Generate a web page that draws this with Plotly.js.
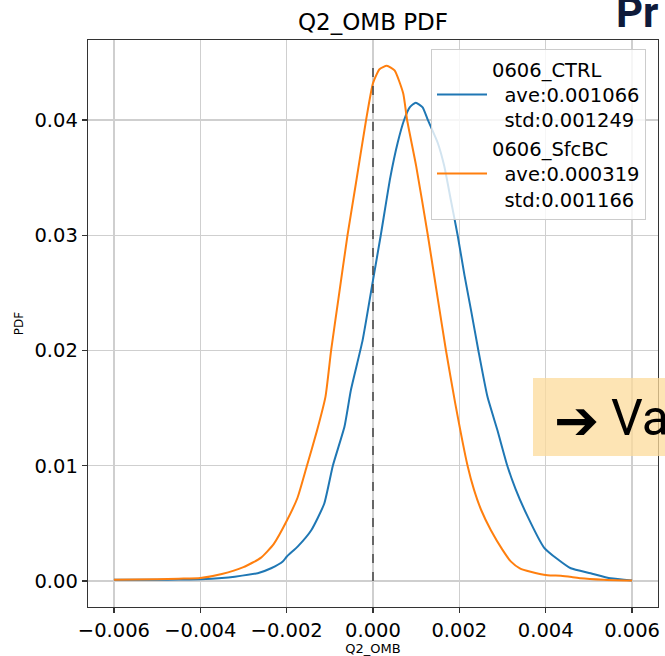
<!DOCTYPE html>
<html>
<head>
<meta charset="utf-8">
<script src="https://cdn.plot.ly/plotly-3.0.1.min.js"></script>
<style>html,body{margin:0;padding:0;background:#fff;}#chart{width:665px;height:656px;}</style>
</head>
<body>
<div id="chart"></div>
<script>
// ---- data ----
const xCtrl = [-0.006, -0.005, -0.0045, -0.004, -0.0035, -0.0032, -0.00267, -0.00236, -0.00209, -0.002, -0.00174, -0.00143, -0.00113, -0.00093, -0.00066, -0.00051, -0.00024, 0.0, 0.00018, 0.0004, 0.00057, 0.00072, 0.00085, 0.00099, 0.00115, 0.00127, 0.0015, 0.00165, 0.0018, 0.00196, 0.00212, 0.00227, 0.00244, 0.00265, 0.00288, 0.00311, 0.0033, 0.00358, 0.00396, 0.00427, 0.00458, 0.00504, 0.0055, 0.006];
const yCtrl = [0.0001, 0.0001, 0.00012, 0.00015, 0.00025, 0.00037, 0.00067, 0.0011, 0.00168, 0.0021, 0.003, 0.0044, 0.0067, 0.0100, 0.0134, 0.0166, 0.0209, 0.0261, 0.0300, 0.0350, 0.0380, 0.0400, 0.0411, 0.0415, 0.0411, 0.0400, 0.0380, 0.0360, 0.0331, 0.0300, 0.0265, 0.0235, 0.0200, 0.0160, 0.0131, 0.0100, 0.0080, 0.0056, 0.0029, 0.0019, 0.0011, 0.00067, 0.00023, 0.00005];

const xSfc = [-0.006, -0.005, -0.0045, -0.004, -0.0035, -0.003, -0.0026, -0.0023, -0.002, -0.00175, -0.00153, -0.0013, -0.0011, -0.00097, -0.0008, -0.00059, -0.0004, -0.00016, 0.0, 0.00015, 0.00032, 0.0005, 0.0007, 0.00079, 0.001, 0.00127, 0.0015, 0.00169, 0.0019, 0.00219, 0.00234, 0.0025, 0.00273, 0.003, 0.00319, 0.0034, 0.00365, 0.00404, 0.00435, 0.0046, 0.00481, 0.00534, 0.006];
const ySfc = [0.0001, 0.00015, 0.0002, 0.00025, 0.0006, 0.0012, 0.0020, 0.0032, 0.0052, 0.0072, 0.0100, 0.0130, 0.0160, 0.0200, 0.0245, 0.0300, 0.0344, 0.0400, 0.0432, 0.0444, 0.0447, 0.0443, 0.0423, 0.0400, 0.0360, 0.0300, 0.0245, 0.0200, 0.0155, 0.0100, 0.0079, 0.0062, 0.0044, 0.0027, 0.0017, 0.0011, 0.0008, 0.0005, 0.00046, 0.00035, 0.00023, 0.0001, 0.00003];

const nameCtrl = ["0606_CTRL", "ave:0.001066", "std:0.001249"];
const nameSfc = ["0606_SfcBC", "ave:0.000319", "std:0.001166"];

const xTickVals = [-0.006, -0.004, -0.002, 0.0, 0.002, 0.004, 0.006];
const xTickText = ["\u22120.006", "\u22120.004", "\u22120.002", "0.000", "0.002", "0.004", "0.006"];
const yTickVals = [0.00, 0.01, 0.02, 0.03, 0.04];
const yTickText = ["0.00", "0.01", "0.02", "0.03", "0.04"];

const titleText = "Q2_OMB PDF";
const xTitle = "Q2_OMB";
const yTitle = "PDF";

// ---- build ----
const NB = "\u00A0\u00A0";
function label(parts) { return parts[0] + "<br>" + NB + parts[1] + "<br>" + NB + parts[2]; }

const font = "DejaVu Sans, sans-serif";
const TF = 19.5;
const traces = [
  {x: xCtrl, y: yCtrl, type: "scatter", mode: "lines", name: label(nameCtrl),
   line: {color: "#1f77b4", width: 2, shape: "spline", smoothing: 0.5}},
  {x: xSfc, y: ySfc, type: "scatter", mode: "lines", name: label(nameSfc),
   line: {color: "#ff7f0e", width: 2, shape: "spline", smoothing: 0.5}}
];

const peak = Math.max(Math.max(...yCtrl), Math.max(...ySfc));

const L = 88, R = 658, T = 40, B = 607, W = 665, H = 656;
const px = v => (v - L) / (R - L);
const py = v => (B - v) / (B - T);

const layout = {
  width: W, height: H,
  margin: {l: L, r: W - R, t: T, b: H - B, pad: 0},
  paper_bgcolor: "#fff", plot_bgcolor: "#fff",
  font: {family: font, color: "#000", size: TF},
  title: {text: titleText, font: {family: font, size: 23, color: "#000"},
          x: 0.5, xref: "paper", y: 1 - 22 / H, yref: "container", yanchor: "middle"},
  showlegend: true,
  legend: {x: px(431), y: py(49), xanchor: "left", yanchor: "top",
           bgcolor: "rgba(255,255,255,0.8)", bordercolor: "#cccccc", borderwidth: 1,
           font: {family: font, size: TF, color: "#000"}, tracegroupgap: 0, valign: "middle",
           itemwidth: 50},
  xaxis: {range: [-0.0066, 0.0066], tickmode: "array", tickvals: xTickVals, ticktext: xTickText,
          showgrid: true, gridcolor: "#cfcfcf", gridwidth: 1.4, zeroline: false,
          showline: true, linecolor: "#333", linewidth: 1.3, mirror: true,
          ticks: "outside", ticklen: 5, tickcolor: "#333", tickwidth: 1.2,
          tickfont: {family: font, size: TF, color: "#000"},
          title: {text: xTitle, font: {family: font, size: 13, color: "#000"}, standoff: 4}},
  yaxis: {range: [-0.00226, 0.04694], tickmode: "array", tickvals: yTickVals, ticktext: yTickText,
          showgrid: true, gridcolor: "#cfcfcf", gridwidth: 1.4, zeroline: false,
          showline: true, linecolor: "#333", linewidth: 1.3, mirror: true,
          ticks: "outside", ticklen: 5, tickcolor: "#333", tickwidth: 1.2,
          tickfont: {family: font, size: TF, color: "#000"},
          title: {text: yTitle, font: {family: font, size: 12, color: "#000"}, standoff: 8}},
  shapes: [
    {type: "line", xref: "x", yref: "y", x0: 0, x1: 0, y0: 0, y1: peak,
     line: {color: "#444", width: 1.5, dash: "dash"}, layer: "above"},
    {type: "rect", xref: "paper", yref: "paper", x0: px(533), x1: px(700), y0: py(456), y1: py(378),
     fillcolor: "rgba(252,219,155,0.75)", line: {width: 0}, layer: "above"}
  ],
  annotations: [
    {xref: "paper", yref: "paper", x: px(552), y: py(420), xanchor: "left", yanchor: "middle",
     text: "<b>\u2794</b>", showarrow: false, font: {family: "DejaVu Sans, sans-serif", size: 54, color: "#000"}},
    {xref: "paper", yref: "paper", x: px(609), y: py(418), xanchor: "left", yanchor: "middle",
     text: "Va", showarrow: false, font: {family: "Roboto, sans-serif", size: 50, color: "#000"}},
    {xref: "paper", yref: "paper", x: px(614), y: py(13), xanchor: "left", yanchor: "middle",
     text: "<b>Pr</b>", showarrow: false, font: {family: "Roboto, sans-serif", size: 42, color: "#0e1a3a"}}
  ]
};

Plotly.newPlot("chart", traces, layout, {displayModeBar: false, staticPlot: true});
</script>
</body>
</html>
